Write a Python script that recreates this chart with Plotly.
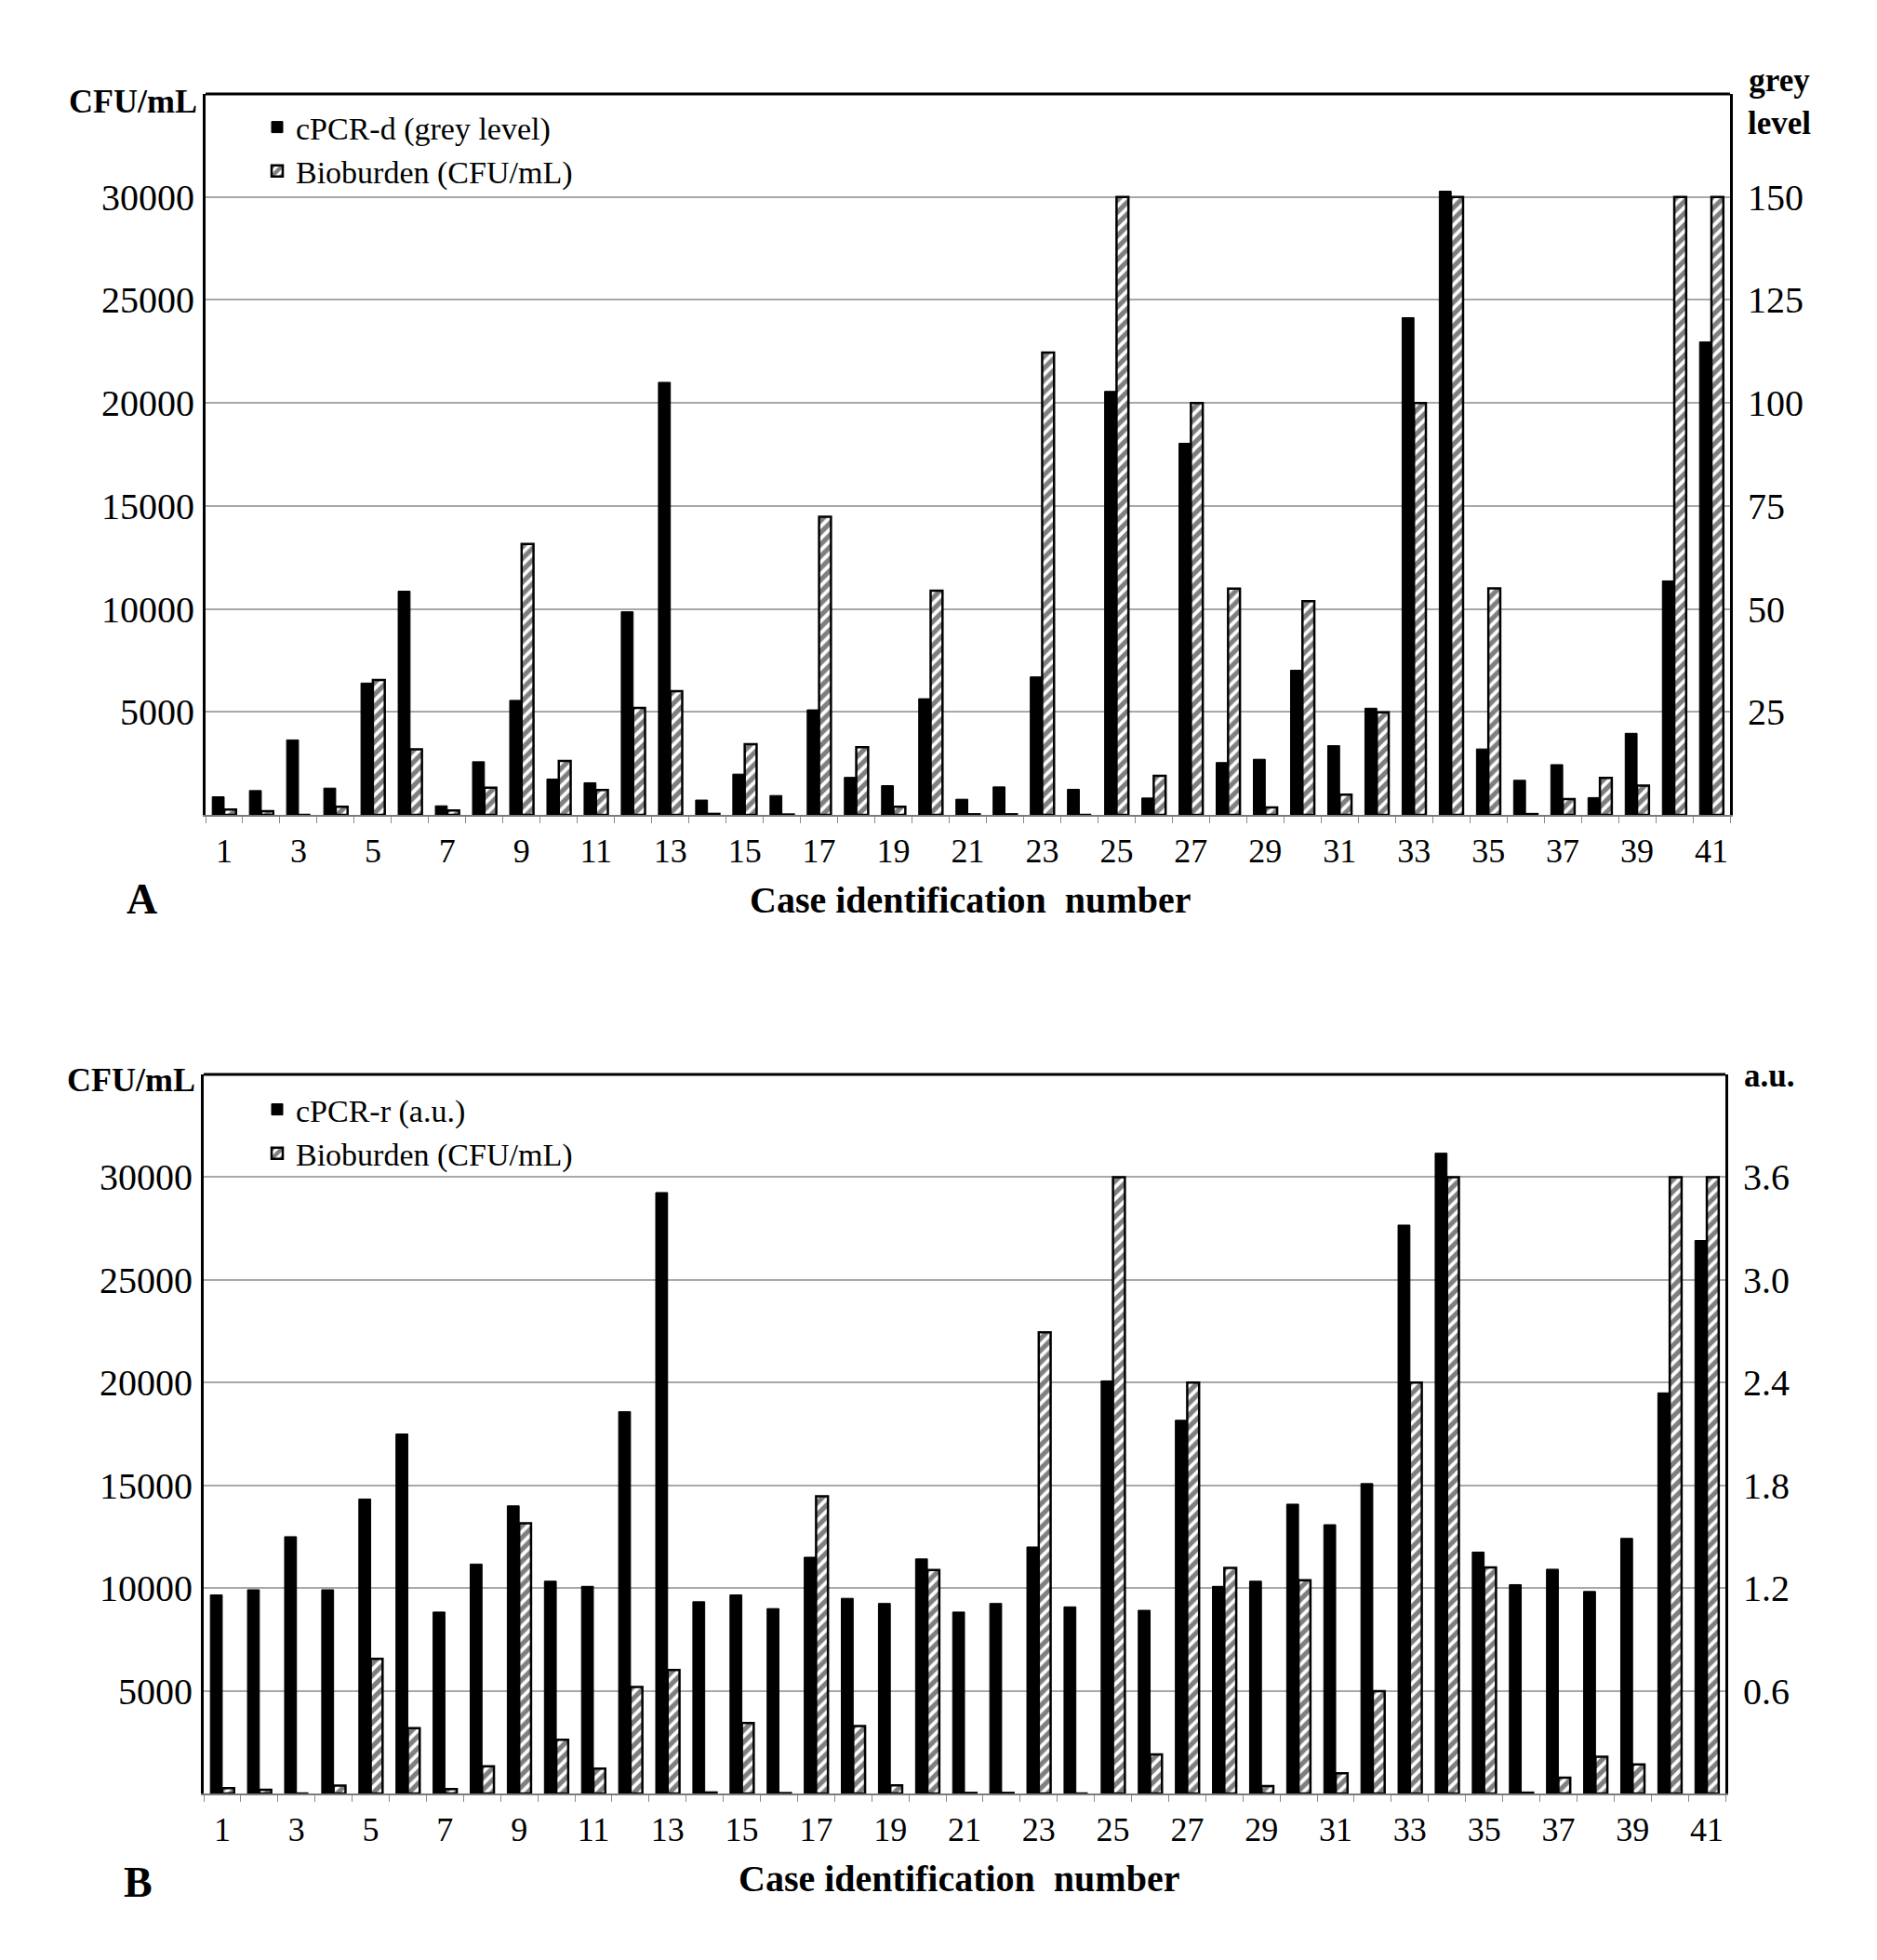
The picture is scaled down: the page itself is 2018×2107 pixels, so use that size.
import plotly.graph_objects as go

# ---------------- data ----------------
cases = list(range(1, 42))
x_tick_vals = list(range(1, 42, 2))
x_tick_text = [str(c) for c in x_tick_vals]

# Panel A: cPCR-d (grey level), right axis
grey_level = [4.4, 5.9, 18.2, 6.5, 32.0, 54.3, 2.2, 12.9, 27.8, 8.7,
              7.8, 49.3, 105.0, 3.6, 9.9, 4.7, 25.5, 9.1, 7.1, 28.2,
              3.8, 6.8, 33.5, 6.2, 102.8, 4.1, 90.2, 12.7, 13.5, 35.1,
              16.8, 25.9, 120.7, 151.4, 16.0, 8.4, 12.2, 4.2, 19.8, 56.8,
              114.8]

# Panel B: cPCR-r (a.u.), right axis
cpcr_r = [1.16, 1.19, 1.50, 1.19, 1.72, 2.10, 1.06, 1.34, 1.68, 1.24,
          1.21, 2.23, 3.51, 1.12, 1.16, 1.08, 1.38, 1.14, 1.11, 1.37,
          1.06, 1.11, 1.44, 1.09, 2.41, 1.07, 2.18, 1.21, 1.24, 1.69,
          1.57, 1.81, 3.32, 3.74, 1.41, 1.22, 1.31, 1.18, 1.49, 2.34,
          3.23]

# Bioburden (CFU/mL), left axis, both panels
bioburden = [260, 180, 0, 390, 6550, 3180, 210, 1320, 13150, 2620,
             1210, 5190, 6010, 50, 3430, 20, 14470, 3280, 400, 10880,
             30, 30, 22450, 0, 30000, 1900, 20000, 10980, 365, 10380,
             980, 4980, 20000, 30000, 11000, 40, 770, 1790, 1420, 30000,
             30000]

cfu_ticks = [5000, 10000, 15000, 20000, 25000, 30000]
cfu_tick_text = ["5000", "10000", "15000", "20000", "25000", "30000"]
grey_ticks = [25, 50, 75, 100, 125, 150]
grey_tick_text = ["25", "50", "75", "100", "125", "150"]
au_ticks = [0.6, 1.2, 1.8, 2.4, 3.0, 3.6]
au_tick_text = ["0.6", "1.2", "1.8", "2.4", "3.0", "3.6"]

# ---------------- layout helpers ----------------
W, H = 2018, 2107
def fx(v):
    return v / W
def fy(v):
    return 1 - v / H

FONT = "Liberation Serif"
BAR_W = 0.32
GRID = "#a8a8a8"

hatch = dict(shape="/", fgcolor="black", bgcolor="white", size=9, solidity=0.58)

fig = go.Figure()

# Panel A
fig.add_trace(go.Bar(x=cases, y=grey_level, name="cPCR-d (grey level)",
                     xaxis="x", yaxis="y2", width=BAR_W, offset=-BAR_W,
                     marker=dict(color="black", line=dict(color="black", width=1)),
                     legend="legend"))
fig.add_trace(go.Bar(x=cases, y=bioburden, name="Bioburden (CFU/mL)",
                     xaxis="x", yaxis="y", width=BAR_W, offset=0,
                     marker=dict(color="white", line=dict(color="black", width=2.5),
                                 pattern=hatch),
                     legend="legend"))
# Panel B
fig.add_trace(go.Bar(x=cases, y=cpcr_r, name="cPCR-r (a.u.)",
                     xaxis="x2", yaxis="y4", width=BAR_W, offset=-BAR_W,
                     marker=dict(color="black", line=dict(color="black", width=1)),
                     legend="legend2"))
fig.add_trace(go.Bar(x=cases, y=bioburden, name="Bioburden (CFU/mL)",
                     xaxis="x2", yaxis="y3", width=BAR_W, offset=0,
                     marker=dict(color="white", line=dict(color="black", width=2.5),
                                 pattern=hatch),
                     legend="legend2"))

def xaxis_cfg(domain, anchor):
    return dict(domain=domain, anchor=anchor, range=[0.5, 41.5],
                tickmode="array", tickvals=x_tick_vals, ticktext=x_tick_text,
                ticks="outside", ticklen=0, ticklabelstandoff=6,
                tickfont=dict(family=FONT, size=36, color="black"),
                showline=True, linecolor="#7a7a7a", linewidth=2,
                showgrid=False, zeroline=False,
                minor=dict(ticks="outside", ticklen=7, tickcolor="#8a8a8a",
                           tickwidth=1, tickmode="linear", tick0=0.5, dtick=1,
                           showgrid=False))

def yleft_cfg(domain, anchor):
    return dict(domain=domain, anchor=anchor, range=[0, 35000],
                tickmode="array", tickvals=cfu_ticks, ticktext=cfu_tick_text,
                ticks="", ticklabelstandoff=1,
                tickfont=dict(family=FONT, size=40, color="black"),
                showgrid=True, gridcolor=GRID, gridwidth=2,
                showline=True, linecolor="black", linewidth=3,
                zeroline=False)

def yright_cfg(overlay, anchor, rng, vals, text):
    return dict(overlaying=overlay, side="right", anchor=anchor, range=rng,
                tickmode="array", tickvals=vals, ticktext=text,
                ticks="", ticklabelstandoff=8,
                tickfont=dict(family=FONT, size=40, color="black"),
                showgrid=False, showline=True, linecolor="black", linewidth=3,
                zeroline=False)

fig.update_layout(
    width=W, height=H,
    margin=dict(l=0, r=0, t=0, b=0),
    paper_bgcolor="white", plot_bgcolor="white",
    barmode="overlay",
    xaxis=xaxis_cfg([fx(213), fx(1852)], "y"),
    yaxis=yleft_cfg([fy(868), fy(93)], "x"),
    yaxis2=yright_cfg("y", "x", [0, 175], grey_ticks, grey_tick_text),
    xaxis2=xaxis_cfg([fx(211), fx(1847)], "y3"),
    yaxis3=yleft_cfg([fy(1920), fy(1147)], "x2"),
    yaxis4=yright_cfg("y3", "x2", [0, 4.2], au_ticks, au_tick_text),
    legend=dict(x=fx(270), y=fy(100), xanchor="left", yanchor="top",
                bgcolor="rgba(0,0,0,0)", font=dict(family=FONT, size=34, color="black"),
                traceorder="normal", itemwidth=30, tracegroupgap=10),
    legend2=dict(x=fx(270), y=fy(1156), xanchor="left", yanchor="top",
                 bgcolor="rgba(0,0,0,0)", font=dict(family=FONT, size=34, color="black"),
                 traceorder="normal", itemwidth=30, tracegroupgap=10),
    shapes=[
        dict(type="line", xref="x domain", yref="y domain", x0=0, x1=1, y0=1, y1=1,
             line=dict(color="black", width=3)),
        dict(type="line", xref="x2 domain", yref="y3 domain", x0=0, x1=1, y0=1, y1=1,
             line=dict(color="black", width=3)),
    ],
)

ann_font = dict(family=FONT, color="black")
annotations = [
    dict(text="<b>CFU/mL</b>", x=fx(135), y=fy(101), font=dict(size=36, **ann_font)),
    dict(text="<b>grey<br>level</b>", x=fx(1905), y=fy(102), font=dict(size=35, **ann_font)),
    dict(text="<b>A</b>", x=fx(144), y=fy(958), font=dict(size=46, **ann_font)),
    dict(text="<b>Case identification\u00a0\u00a0number</b>", x=fx(1035), y=fy(959),
         font=dict(size=40, **ann_font)),
    dict(text="<b>CFU/mL</b>", x=fx(133), y=fy(1153), font=dict(size=36, **ann_font)),
    dict(text="<b>a.u.</b>", x=fx(1894), y=fy(1148), font=dict(size=35, **ann_font)),
    dict(text="<b>B</b>", x=fx(140), y=fy(2015), font=dict(size=46, **ann_font)),
    dict(text="<b>Case identification\u00a0\u00a0number</b>", x=fx(1023), y=fy(2011),
         font=dict(size=40, **ann_font)),
]
for a in annotations:
    a.update(xref="paper", yref="paper", showarrow=False, xanchor="center", yanchor="middle")
fig.update_layout(annotations=annotations)

fig.write_html("out.html")
